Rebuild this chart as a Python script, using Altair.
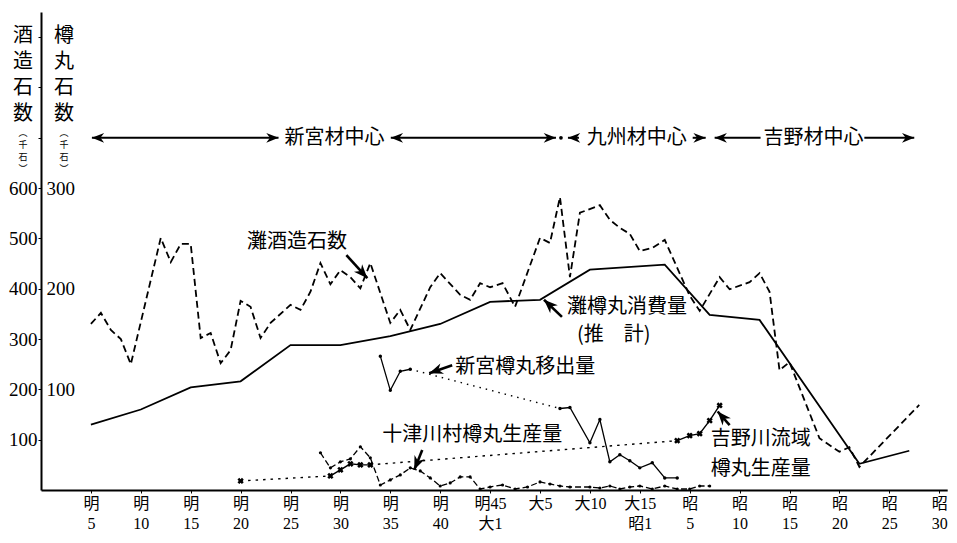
import json
import altair as alt
import pandas as pd

# ---------------- x axis (era ticks) ----------------
tick_years = [1872, 1877, 1882, 1887, 1892, 1897, 1902, 1907, 1912, 1916,
              1921, 1926, 1930, 1935, 1940, 1945, 1950, 1955]
tick_labels = [["明", "5"], ["明", "10"], ["明", "15"], ["明", "20"], ["明", "25"],
               ["明", "30"], ["明", "35"], ["明", "40"], ["明45", "大1"], ["大5"],
               ["大10"], ["大15", "昭1"], ["昭", "5"], ["昭", "10"], ["昭", "15"],
               ["昭", "20"], ["昭", "25"], ["昭", "30"]]

# ---------------- series ----------------
# 灘酒造石数 (千石, left scale)
sake_years = [1872, 1873, 1874, 1875, 1876, 1879, 1880, 1881, 1882, 1883, 1884, 1885,
              1886, 1887, 1888, 1889, 1890, 1892, 1893, 1894, 1895, 1896, 1897, 1898,
              1899, 1900, 1902, 1903, 1904, 1906, 1907, 1909, 1910, 1911, 1912, 1913,
              1914, 1916, 1917, 1918, 1919, 1920, 1922, 1923, 1924, 1925, 1926, 1927,
              1928, 1930, 1931, 1933, 1934, 1936, 1937, 1938, 1939, 1940, 1943, 1945,
              1946, 1947, 1953]
sake_values = [330, 352, 318, 300, 250, 501, 453, 489, 489, 302, 312, 252,
               278, 376, 364, 302, 332, 368, 358, 394, 451, 409, 437, 423,
               401, 451, 332, 358, 318, 403, 431, 388, 378, 411, 403, 411,
               364, 501, 491, 582, 423, 551, 566, 537, 521, 509, 475, 481,
               497, 386, 356, 423, 399, 413, 431, 394, 238, 254, 103, 76,
               85, 46, 169]

# 灘樽丸消費量 (推計) (千石, right scale)
cons_years = [1872, 1877, 1882, 1887, 1892, 1897, 1902, 1907, 1912, 1916, 1921, 1928,
              1932, 1937, 1947, 1952]
cons_values = [65, 80, 102, 108, 144, 144, 153, 165, 187, 189, 219, 224,
               174, 169, 26, 39]

# 新宮樽丸移出量
shingu_years = [1901, 1902, 1903, 1904, 1918, 1919, 1921, 1922, 1923, 1924, 1925,
                1926, 1927, 1928, 1929]
shingu_values = [133, 99, 118, 120, 81, 82, 47, 70, 28, 35, 29, 22, 27, 12, 12]

# 十津川村樽丸生産量
totsu_years = [1895, 1896, 1897, 1898, 1899, 1900, 1901, 1902, 1903, 1904, 1905, 1906,
               1907, 1908, 1909, 1910, 1911, 1912, 1913, 1914, 1915, 1916, 1917, 1918,
               1919, 1921, 1922, 1923, 1924, 1925, 1926, 1927, 1928, 1929, 1930, 1931,
               1932]
totsu_values = [37, 22, 28, 31, 43, 32, 5, 10, 15, 22, 19, 12,
                4, 7, 13, 13, 1, 3, 5, 1, 3, 8, 6, 4,
                3, 3, 2, 4, 1, 3, 4, 1, 4, 1, 1, 4, 4]

# 吉野川流域樽丸生産量
yoshino_years = [1887, 1896, 1897, 1898, 1899, 1900, 1929, 1930, 1931, 1932, 1933]
yoshino_values = [9, 14, 20, 26, 25, 25, 49, 54, 56, 69, 84]

# ---------------- annotations ----------------
top_y = 700
top_rule_x1 = [1872.1, 1902.05, 1918.8, 1930.3, 1932.5, 1947.5]
top_rule_x2 = [1890.8, 1917.6, 1919.9, 1931.6, 1937.1, 1952.5]
top_head_x = [1872.1, 1890.8, 1902.05, 1917.6, 1918.8, 1931.6, 1932.5, 1952.5]
top_head_angle = [180, 0, 180, 0, 180, 0, 180, 0]
top_labels = ["新宮材中心", "九州材中心", "吉野材中心"]
top_label_x = [1896.4, 1925.7, 1942.4]
top_dot_x = [1918.1]

ann_labels = ["灘酒造石数", "灘樽丸消費量", "(推　計)", "新宮樽丸移出量",
              "十津川村樽丸生産量", "吉野川流域", "樽丸生産量"]
ann_x = [1887.65, 1918.7, 1919.7, 1908.5, 1901.2, 1932.1, 1932.1]
ann_y = [493, 364, 308, 244, 109, 101, 42]

arrow_tail_x = [1897.6, 1918.2, 1908.2, 1905.2, 1934.0]
arrow_tail_y = [467, 344, 248, 79.5, 129]
arrow_tip_x = [1899.7, 1916.4, 1905.9, 1904.4, 1932.8]
arrow_tip_y = [421, 378, 232, 40, 156]
arrow_angle = [47.6, 223.4, 160.5, 112.8, 228.7]

# ---------------- helpers ----------------
S = 49.9
W = 900
H = 478
CJK = "Noto Sans CJK JP"
NUM = "Liberation Serif, Noto Sans CJK JP"
HEAD = "M0,0 L-2,-0.8 L-1.4,0 L-2,0.8 Z"

xscale = alt.Scale(domain=[1867, 1912, 1916, 1926, 1930, 1955.8],
                   range=[0, 9 * S, 10 * S, 12 * S, 13 * S, 18.16 * S],
                   zero=False, nice=False)

label_expr = " : ".join(
    f"datum.value == {y} ? {json.dumps(l, ensure_ascii=False)}"
    for y, l in zip(tick_years, tick_labels)) + " : ''"

xaxis = alt.Axis(values=tick_years, labelExpr=label_expr, title=None,
                 domainColor="black", domainWidth=2, tickColor="black", tickSize=3,
                 labelFont=NUM, labelFontSize=16, labelLineHeight=20, labelPadding=2,
                 labelColor="black", grid=False, labelOverlap=False, labelFlush=False)

sake_axis = alt.Axis(values=[100, 200, 300, 400, 500, 600, 700, 800, 900],
                     labelExpr="datum.value <= 600 ? datum.label : ''", title=None,
                     domainColor="black", domainWidth=2, tickColor="black", tickSize=3,
                     labelFont=NUM, labelFontSize=19, labelPadding=1,
                     labelColor="black", grid=False, labelOverlap=False, labelFlush=False)

taru_axis = alt.Axis(orient="left", values=[100, 200, 300], title=None, domain=False,
                     ticks=False, tickSize=0, labelAlign="left", labelPadding=-5,
                     labelFont=NUM, labelFontSize=19, labelColor="black", grid=False,
                     labelOverlap=False, labelFlush=False)


def X(field="year"):
    return alt.X(f"{field}:Q", scale=xscale, axis=xaxis)


def YS(field="v", axis=None):
    return alt.Y(f"{field}:Q", scale=alt.Scale(domain=[0, 950], zero=False, nice=False),
                 axis=axis)


def YT(field="v", axis=None):
    return alt.Y(f"{field}:Q", scale=alt.Scale(domain=[0, 475], zero=False, nice=False),
                 axis=axis)


def split(years, values, name, gap=3):
    rows, gaps = [], []
    seg = 0
    for i, (y, v) in enumerate(zip(years, values)):
        if i > 0 and y - years[i - 1] > gap:
            seg += 1
            gaps.append({"year": years[i - 1], "v": values[i - 1], "g": f"{name}{seg}"})
            gaps.append({"year": y, "v": v, "g": f"{name}{seg}"})
        rows.append({"year": y, "v": v, "seg": f"{name}{seg}"})
    return pd.DataFrame(rows), pd.DataFrame(gaps)


sake_df = pd.DataFrame({"year": sake_years, "v": sake_values})
cons_df = pd.DataFrame({"year": cons_years, "v": cons_values})
shingu_df, shingu_gap = split(shingu_years, shingu_values, "s")
totsu_df = pd.DataFrame({"year": totsu_years, "v": totsu_values})
yoshino_df, yoshino_gap = split(yoshino_years, yoshino_values, "y")

# ---------------- layers ----------------
sake_line = alt.Chart(sake_df).mark_line(
    color="black", strokeWidth=1.8, strokeDash=[7, 4]).encode(
    x=X(), y=YS(axis=sake_axis))

cons_line = alt.Chart(cons_df).mark_line(color="black", strokeWidth=1.8).encode(
    x=X(), y=YT(axis=taru_axis))

shingu_line = alt.Chart(shingu_df).mark_line(color="black", strokeWidth=1.3).encode(
    x=X(), y=YT(), detail="seg:N")
shingu_gapl = alt.Chart(shingu_gap).mark_line(
    color="black", strokeWidth=1.4, strokeDash=[1.5, 5]).encode(
    x=X(), y=YT(), detail="g:N")
shingu_pts = alt.Chart(shingu_df).mark_point(
    filled=True, color="black", size=12, opacity=1).encode(x=X(), y=YT())

totsu_line = alt.Chart(totsu_df).mark_line(
    color="black", strokeWidth=1.3, strokeDash=[6, 3]).encode(x=X(), y=YT())
totsu_pts = alt.Chart(totsu_df).mark_point(
    filled=True, color="black", size=10, opacity=1).encode(x=X(), y=YT())

yoshino_line = alt.Chart(yoshino_df).mark_line(color="black", strokeWidth=1.4).encode(
    x=X(), y=YT(), detail="seg:N")
yoshino_gapl = alt.Chart(yoshino_gap).mark_line(
    color="black", strokeWidth=1.4, strokeDash=[2.5, 5]).encode(
    x=X(), y=YT(), detail="g:N")
yoshino_pts = alt.Chart(yoshino_df).mark_point(
    shape="cross", angle=45, filled=True, color="black", size=40, opacity=1).encode(
    x=X(), y=YT())

# top era arrows
top_rules_df = pd.DataFrame({"year": top_rule_x1, "year2": top_rule_x2,
                             "v": [top_y] * len(top_rule_x1)})
top_heads_df = pd.DataFrame({"year": top_head_x, "angle": top_head_angle,
                             "v": [top_y] * len(top_head_x)})
top_text_df = pd.DataFrame({"year": top_label_x, "label": top_labels,
                            "v": [top_y] * len(top_labels)})
top_dot_df = pd.DataFrame({"year": top_dot_x, "v": [top_y]})

top_rules = alt.Chart(top_rules_df).mark_rule(color="black", strokeWidth=2).encode(
    x=X(), x2="year2:Q", y=YS())
top_heads = alt.Chart(top_heads_df).mark_point(
    shape=HEAD, filled=True, color="black", size=150, opacity=1, strokeWidth=0).encode(
    x=X(), y=YS(), angle=alt.Angle("angle:Q", scale=None))
top_text = alt.Chart(top_text_df).mark_text(
    font=CJK, fontSize=20, color="black", align="center", baseline="middle").encode(
    x=X(), y=YS(), text="label:N")
top_dot = alt.Chart(top_dot_df).mark_point(
    filled=True, color="black", size=14, opacity=1).encode(x=X(), y=YS())

# series annotations
ann_df = pd.DataFrame({"year": ann_x, "v": ann_y, "label": ann_labels})
ann_text = alt.Chart(ann_df).mark_text(
    font=CJK, fontSize=20, color="black", align="left", baseline="middle").encode(
    x=X(), y=YS(), text="label:N")

arr_df = pd.DataFrame({"year": arrow_tail_x, "v": arrow_tail_y,
                       "year2": arrow_tip_x, "v2": arrow_tip_y, "angle": arrow_angle})
arr_rules = alt.Chart(arr_df).mark_rule(color="black", strokeWidth=2.6).encode(
    x=X(), x2="year2:Q", y=YS(), y2="v2:Q")
arr_heads = alt.Chart(arr_df).mark_point(
    shape=HEAD, filled=True, color="black", size=190, opacity=1, strokeWidth=0).encode(
    x=X("year2"), y=YS("v2"), angle=alt.Angle("angle:Q", scale=None))

# vertical axis titles
one = pd.DataFrame({"a": [0]})


def vtitle(chars, xpx, ypx, size, lh):
    return alt.Chart(one).mark_text(
        text=chars, font=CJK, fontSize=size, lineHeight=lh, color="black",
        align="center", baseline="top").encode(x=alt.value(xpx), y=alt.value(ypx))


titles = [
    vtitle(["酒", "造", "石", "数"], -18, 14, 20, 26),
    vtitle(["︵", "千", "石", "︶"], -18, 117, 9, 12),
    vtitle(["樽", "丸", "石", "数"], 23, 14, 20, 26),
    vtitle(["︵", "千", "石", "︶"], 23, 117, 9, 12),
]

chart = alt.layer(
    sake_line, cons_line,
    shingu_gapl, shingu_line, shingu_pts,
    totsu_line, totsu_pts,
    yoshino_gapl, yoshino_line, yoshino_pts,
    top_rules, top_heads, top_text, top_dot,
    ann_text, arr_rules, arr_heads,
    *titles,
).resolve_scale(y="independent").properties(
    width=W, height=H,
    padding={"left": 33, "top": 4, "right": 8, "bottom": 45},
    autosize="none",
    background="white",
).configure_view(stroke=None)

chart.save("out.html", embed_options={"renderer": "svg", "actions": False})
